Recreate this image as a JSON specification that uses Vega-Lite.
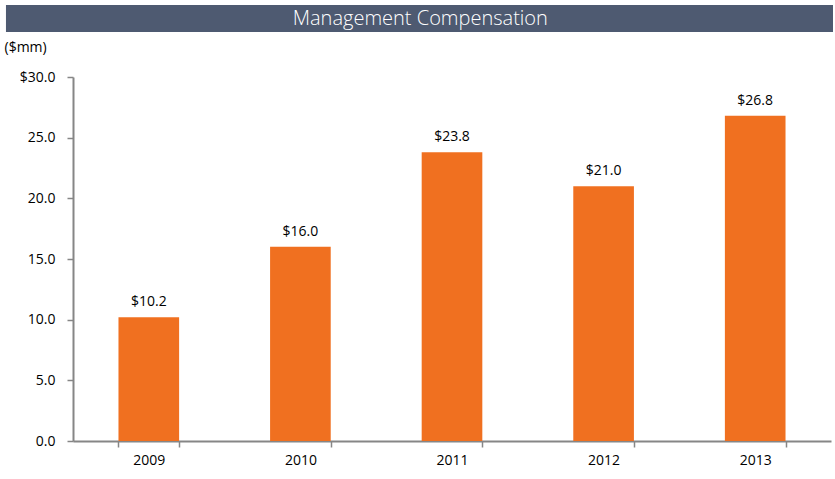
{
  "$schema": "https://vega.github.io/schema/vega-lite/v6.json",
  "padding": {"top": 5, "left": 4, "right": 0, "bottom": 0},
  "spacing": 8,
  "config": {
    "font": "Open Sans",
    "view": {"stroke": null}
  },
  "vconcat": [
    {
      "width": 760,
      "height": 27,
      "data": {"values": [{"title": "Management Compensation", "x0": -0.0882, "x1": 1, "y0": 0, "y1": 1, "xc": 0.457, "yc": 0.5}]},
      "encoding": {
        "x": {"field": "x0", "type": "quantitative", "scale": {"domain": [0, 1], "zero": false, "nice": false}, "axis": null},
        "y": {"field": "y0", "type": "quantitative", "scale": {"domain": [0, 1]}, "axis": null}
      },
      "layer": [
        {
          "mark": {"type": "rect", "color": "#4E5A71", "clip": false},
          "encoding": {
            "x2": {"field": "x1"},
            "y2": {"field": "y1"}
          }
        },
        {
          "mark": {"type": "text", "color": "white", "fontSize": 20, "font": "Open Sans", "fontWeight": 300, "baseline": "middle", "align": "center"},
          "encoding": {
            "text": {"field": "title"},
            "x": {"field": "xc", "type": "quantitative"},
            "y": {"field": "yc", "type": "quantitative"}
          }
        }
      ]
    },
    {
      "width": 758,
      "height": 364,
      "data": {
        "values": [
          {"year": "2009", "comp": 10.2},
          {"year": "2010", "comp": 16.0},
          {"year": "2011", "comp": 23.8},
          {"year": "2012", "comp": 21.0},
          {"year": "2013", "comp": 26.8}
        ]
      },
      "encoding": {
        "x": {
          "field": "year", "type": "nominal",
          "scale": {"paddingInner": 0.6, "paddingOuter": 0.3},
          "axis": {
            "title": null, "labelAngle": 0, "labelFontSize": 14, "labelColor": "#000000",
            "labelPadding": 6, "domainColor": "#868686", "domainWidth": 2,
            "tickColor": "#868686", "tickWidth": 1.5, "tickSize": 6, "tickBand": "extent",
            "labelFont": "Open Sans"
          }
        },
        "y": {
          "field": "comp", "type": "quantitative",
          "scale": {"domain": [0, 30], "nice": false},
          "axis": {
            "title": "($mm)", "titleAngle": 0, "titleAlign": "left", "titleBaseline": "middle",
            "titleX": -69, "titleY": -30, "titleFontSize": 14, "titleFontWeight": "normal", "titleColor": "#000000",
            "values": [0, 5, 10, 15, 20, 25, 30], "labelOverlap": false,
            "labelExpr": "datum.value == 30 ? '$30.0' : format(datum.value, '.1f')",
            "labelFontSize": 14, "labelColor": "#000000", "labelPadding": 12,
            "grid": false, "domainColor": "#868686", "domainWidth": 2,
            "tickColor": "#868686", "tickWidth": 1.5, "tickSize": 6
          }
        }
      },
      "layer": [
        {"mark": {"type": "bar", "color": "#F07020"}},
        {
          "mark": {"type": "text", "dy": -15, "fontSize": 14, "color": "#000000"},
          "encoding": {"text": {"field": "comp", "type": "quantitative", "format": "$.1f"}}
        }
      ]
    }
  ]
}
